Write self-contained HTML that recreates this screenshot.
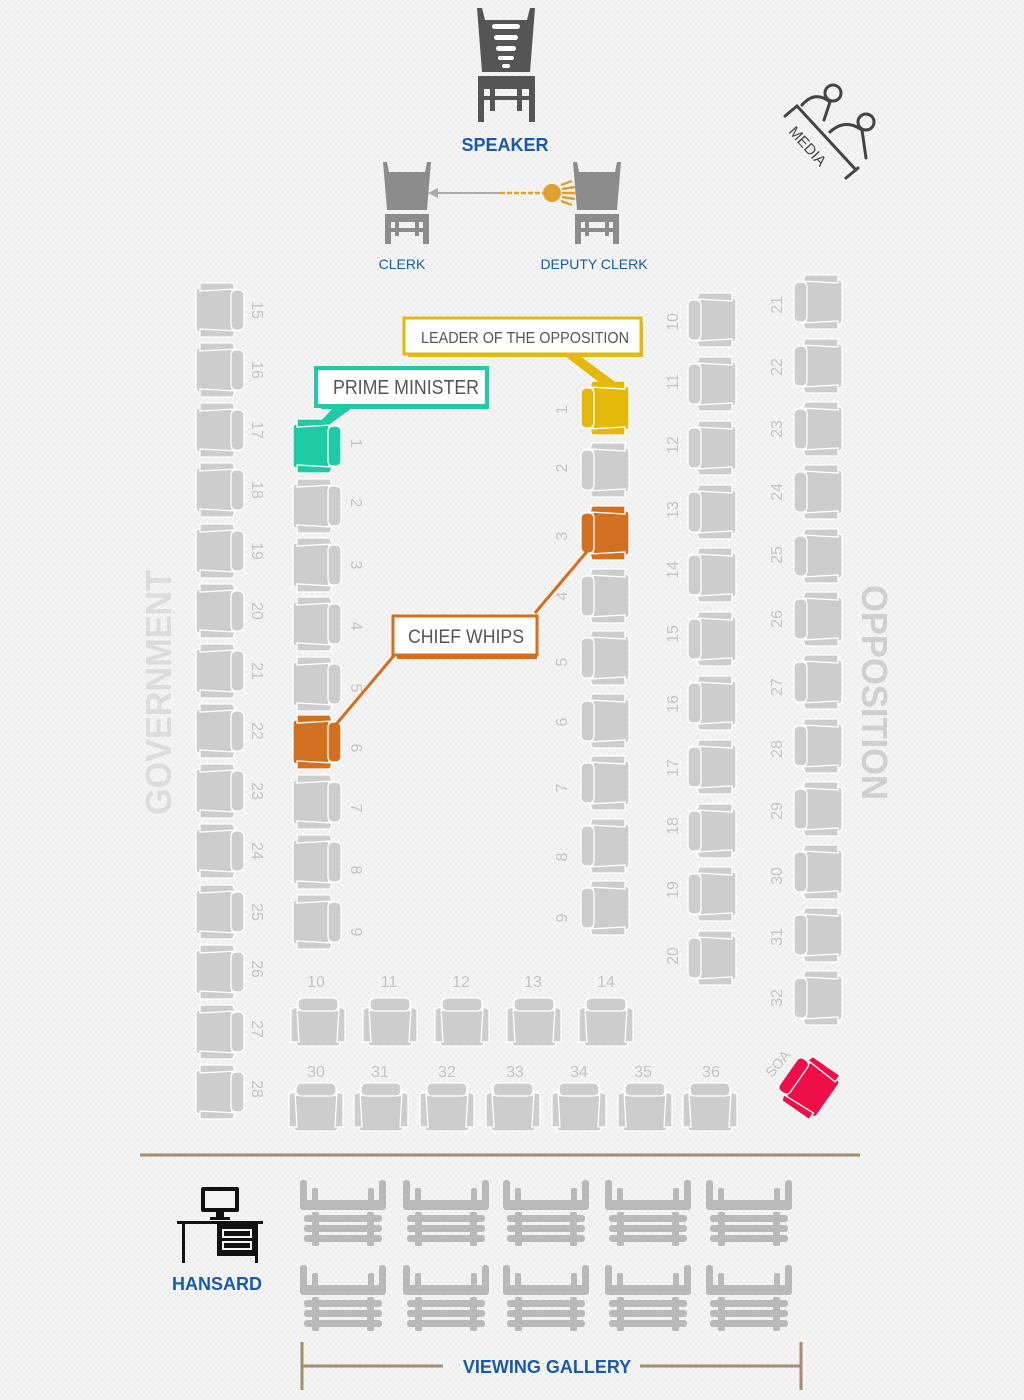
<!DOCTYPE html>
<html><head><meta charset="utf-8"><style>
html,body{margin:0;padding:0;background:#f3f3f3;}
svg{display:block;font-family:"Liberation Sans",sans-serif;}
</style></head><body>
<svg width="1024" height="1400" viewBox="0 0 1024 1400" xmlns="http://www.w3.org/2000/svg">
<defs>
<pattern id="bg" width="6" height="6" patternUnits="userSpaceOnUse">
<rect width="6" height="6" fill="#f5f5f5"/><path d="M0 0L6 6M6 0L0 6" stroke="#e9e9e9" stroke-width="0.6"/>
</pattern>
<g id="c" stroke="#fff" stroke-width="1.3">
<rect x="-22" y="-12" width="44" height="36" rx="3"/>
<path d="M-27,-13 L-21,-15 L-19,20 L-27,20 Z"/>
<path d="M27,-13 L21,-15 L19,20 L27,20 Z"/>
<rect x="-20" y="-24" width="40" height="13" rx="5"/>
</g>
<g id="bench" fill="#b9b9b9">
<rect x="0" y="0" width="7" height="28" rx="3"/><rect x="79" y="0" width="7" height="28" rx="3"/>
<rect x="12" y="8" width="6" height="20" rx="2"/><rect x="68" y="8" width="6" height="20" rx="2"/>
<rect x="0" y="20" width="86" height="10" rx="3"/>
<rect x="4" y="35" width="78" height="7" rx="3"/><rect x="4" y="45" width="78" height="7" rx="3"/><rect x="4" y="55" width="78" height="7" rx="3"/>
<rect x="12" y="32" width="7" height="34" rx="2"/><rect x="67" y="32" width="7" height="34" rx="2"/>
</g>
<g id="hchair">
<path d="M0,0 L4,0 L6,10 L42,10 L44,0 L48,0 L44,48 L4,48 Z"/>
<rect x="2" y="52" width="44" height="8"/>
<rect x="2" y="60" width="6" height="22"/><rect x="40" y="60" width="6" height="22"/>
<rect x="12" y="60" width="4" height="14"/><rect x="32" y="60" width="4" height="14"/>
<rect x="2" y="66" width="44" height="4"/>
</g>
</defs>
<rect width="1024" height="1400" fill="url(#bg)"/>

<!-- Speaker -->
<g fill="#555">
<path d="M477,8 L482,8 L485,20 L527,20 L530,8 L535,8 L530,72 L482,72 Z"/>
<rect x="478" y="76" width="57" height="13"/>
<rect x="478" y="89" width="6" height="33"/><rect x="529" y="89" width="6" height="33"/>
<rect x="490" y="89" width="5" height="22"/><rect x="517" y="89" width="5" height="22"/>
<rect x="478" y="96" width="57" height="4"/>
</g>
<g fill="#fff"><rect x="492" y="24" width="28" height="5" rx="2.5"/><rect x="494" y="35" width="24" height="5" rx="2.5"/><rect x="496" y="46" width="20" height="5" rx="2.5"/><rect x="498" y="56" width="16" height="4" rx="2"/><rect x="502" y="64" width="8" height="4" rx="2"/></g>
<text x="505" y="151" text-anchor="middle" font-size="18" font-weight="bold" fill="#1a5aa6">SPEAKER</text>

<g fill="#8c8c8c"><use href="#hchair" x="383" y="162"/><use href="#hchair" x="573" y="162"/></g>
<line x1="436" y1="193" x2="500" y2="193" stroke="#aaa" stroke-width="2"/>
<path d="M428,193 L438,188 L438,198 Z" fill="#aaa"/>
<line x1="500" y1="193" x2="543" y2="193" stroke="#e0a030" stroke-width="2.5" stroke-dasharray="5,2"/>
<circle cx="552" cy="193" r="9" fill="#e0a030"/>
<path d="M561,185 L572,181 M562,189 L575,187 M562,193 L576,193 M562,197 L575,199 M561,201 L572,205" stroke="#e0a030" stroke-width="2.5"/>
<text x="402" y="269" text-anchor="middle" font-size="14" fill="#1a5aa6">CLERK</text>
<text x="594" y="269" text-anchor="middle" font-size="14" fill="#1a5aa6">DEPUTY CLERK</text>

<!-- Media -->
<g stroke="#444" stroke-width="3" fill="none" stroke-linecap="round">
<circle cx="833" cy="93" r="8"/><circle cx="866" cy="122" r="8"/>
<line x1="797" y1="106" x2="856" y2="170"/>
<line x1="785" y1="116" x2="797" y2="106"/><line x1="846" y1="178" x2="858" y2="168"/>
<path d="M802,105 Q815,90 830,102 L824,120"/>
<path d="M830,132 Q845,118 862,130 L866,158"/>
</g>
<text x="0" y="0" font-size="15" fill="#444" transform="translate(788,132) rotate(48)">MEDIA</text>

<text font-size="36" font-weight="bold" fill="#dcdcdc" transform="translate(171,815) rotate(-90)" textLength="245" lengthAdjust="spacingAndGlyphs">GOVERNMENT</text>
<text font-size="36" font-weight="bold" fill="#cfcfcf" transform="translate(862,585) rotate(90)" textLength="215" lengthAdjust="spacingAndGlyphs">OPPOSITION</text>

<g fill="#cdcdcd">
<use href="#c" transform="translate(220,310) rotate(90)"/><use href="#c" transform="translate(220,370) rotate(90)"/><use href="#c" transform="translate(220,430) rotate(90)"/><use href="#c" transform="translate(220,490) rotate(90)"/><use href="#c" transform="translate(220,551) rotate(90)"/><use href="#c" transform="translate(220,611) rotate(90)"/><use href="#c" transform="translate(220,671) rotate(90)"/><use href="#c" transform="translate(220,731) rotate(90)"/><use href="#c" transform="translate(220,791) rotate(90)"/><use href="#c" transform="translate(220,851) rotate(90)"/><use href="#c" transform="translate(220,912) rotate(90)"/><use href="#c" transform="translate(220,972) rotate(90)"/><use href="#c" transform="translate(220,1032) rotate(90)"/><use href="#c" transform="translate(220,1092) rotate(90)"/>
<use href="#c" transform="translate(317,506) rotate(90)"/><use href="#c" transform="translate(317,565) rotate(90)"/><use href="#c" transform="translate(317,624) rotate(90)"/><use href="#c" transform="translate(317,684) rotate(90)"/><use href="#c" transform="translate(317,802) rotate(90)"/><use href="#c" transform="translate(317,862) rotate(90)"/><use href="#c" transform="translate(317,922) rotate(90)"/>
<use href="#c" transform="translate(605,470) rotate(-90)"/><use href="#c" transform="translate(605,596) rotate(-90)"/><use href="#c" transform="translate(605,658) rotate(-90)"/><use href="#c" transform="translate(605,721) rotate(-90)"/><use href="#c" transform="translate(605,783) rotate(-90)"/><use href="#c" transform="translate(605,846) rotate(-90)"/><use href="#c" transform="translate(605,908) rotate(-90)"/>
<use href="#c" transform="translate(712,320) rotate(-90)"/><use href="#c" transform="translate(712,384) rotate(-90)"/><use href="#c" transform="translate(712,448) rotate(-90)"/><use href="#c" transform="translate(712,512) rotate(-90)"/><use href="#c" transform="translate(712,575) rotate(-90)"/><use href="#c" transform="translate(712,639) rotate(-90)"/><use href="#c" transform="translate(712,703) rotate(-90)"/><use href="#c" transform="translate(712,767) rotate(-90)"/><use href="#c" transform="translate(712,831) rotate(-90)"/><use href="#c" transform="translate(712,894) rotate(-90)"/><use href="#c" transform="translate(712,958) rotate(-90)"/>
<use href="#c" transform="translate(818,302) rotate(-90)"/><use href="#c" transform="translate(818,366) rotate(-90)"/><use href="#c" transform="translate(818,429) rotate(-90)"/><use href="#c" transform="translate(818,492) rotate(-90)"/><use href="#c" transform="translate(818,556) rotate(-90)"/><use href="#c" transform="translate(818,619) rotate(-90)"/><use href="#c" transform="translate(818,682) rotate(-90)"/><use href="#c" transform="translate(818,746) rotate(-90)"/><use href="#c" transform="translate(818,809) rotate(-90)"/><use href="#c" transform="translate(818,872) rotate(-90)"/><use href="#c" transform="translate(818,935) rotate(-90)"/><use href="#c" transform="translate(818,998) rotate(-90)"/>
<use href="#c" transform="translate(318,1022)"/><use href="#c" transform="translate(390,1022)"/><use href="#c" transform="translate(462,1022)"/><use href="#c" transform="translate(534,1022)"/><use href="#c" transform="translate(606,1022)"/>
<use href="#c" transform="translate(316,1107)"/><use href="#c" transform="translate(381,1107)"/><use href="#c" transform="translate(447,1107)"/><use href="#c" transform="translate(513,1107)"/><use href="#c" transform="translate(579,1107)"/><use href="#c" transform="translate(645,1107)"/><use href="#c" transform="translate(710,1107)"/>
</g>
<use href="#c" fill="#1ecba5" transform="translate(317,446) rotate(90)"/>
<use href="#c" fill="#d2701f" transform="translate(317,742) rotate(90)"/>
<use href="#c" fill="#e5b90b" transform="translate(605,408) rotate(-90)"/>
<use href="#c" fill="#d2701f" transform="translate(605,533) rotate(-90)"/>
<use href="#c" fill="#ee0e48" transform="translate(808,1086) rotate(-55)"/>
<text font-size="14" fill="#c0c0c0" transform="translate(772,1078) rotate(-50)">SOA</text>

<g font-size="16" fill="#c4c4c4" text-anchor="middle">
<text transform="translate(252,310) rotate(90)">15</text><text transform="translate(252,370) rotate(90)">16</text><text transform="translate(252,430) rotate(90)">17</text><text transform="translate(252,490) rotate(90)">18</text><text transform="translate(252,551) rotate(90)">19</text><text transform="translate(252,611) rotate(90)">20</text><text transform="translate(252,671) rotate(90)">21</text><text transform="translate(252,731) rotate(90)">22</text><text transform="translate(252,791) rotate(90)">23</text><text transform="translate(252,851) rotate(90)">24</text><text transform="translate(252,912) rotate(90)">25</text><text transform="translate(252,969) rotate(90)">26</text><text transform="translate(252,1029) rotate(90)">27</text><text transform="translate(252,1089) rotate(90)">28</text>
<text transform="translate(351,443) rotate(90)">1</text><text transform="translate(351,503) rotate(90)">2</text><text transform="translate(351,565) rotate(90)">3</text><text transform="translate(351,626) rotate(90)">4</text><text transform="translate(351,688) rotate(90)">5</text><text transform="translate(351,748) rotate(90)">6</text><text transform="translate(351,808) rotate(90)">7</text><text transform="translate(351,870) rotate(90)">8</text><text transform="translate(351,932) rotate(90)">9</text>
<text transform="translate(567,410) rotate(-90)">1</text><text transform="translate(567,468) rotate(-90)">2</text><text transform="translate(567,536) rotate(-90)">3</text><text transform="translate(567,596) rotate(-90)">4</text><text transform="translate(567,662) rotate(-90)">5</text><text transform="translate(567,722) rotate(-90)">6</text><text transform="translate(567,788) rotate(-90)">7</text><text transform="translate(567,857) rotate(-90)">8</text><text transform="translate(567,918) rotate(-90)">9</text>
<text transform="translate(678,322) rotate(-90)">10</text><text transform="translate(678,382) rotate(-90)">11</text><text transform="translate(678,445) rotate(-90)">12</text><text transform="translate(678,510) rotate(-90)">13</text><text transform="translate(678,570) rotate(-90)">14</text><text transform="translate(678,634) rotate(-90)">15</text><text transform="translate(678,704) rotate(-90)">16</text><text transform="translate(678,768) rotate(-90)">17</text><text transform="translate(678,826) rotate(-90)">18</text><text transform="translate(678,890) rotate(-90)">19</text><text transform="translate(678,956) rotate(-90)">20</text>
<text transform="translate(782,305) rotate(-90)">21</text><text transform="translate(782,367) rotate(-90)">22</text><text transform="translate(782,429) rotate(-90)">23</text><text transform="translate(782,492) rotate(-90)">24</text><text transform="translate(782,555) rotate(-90)">25</text><text transform="translate(782,619) rotate(-90)">26</text><text transform="translate(782,687) rotate(-90)">27</text><text transform="translate(782,749) rotate(-90)">28</text><text transform="translate(782,811) rotate(-90)">29</text><text transform="translate(782,876) rotate(-90)">30</text><text transform="translate(782,937) rotate(-90)">31</text><text transform="translate(782,998) rotate(-90)">32</text>
<text x="316" y="987">10</text><text x="389" y="987">11</text><text x="461" y="987">12</text><text x="533" y="987">13</text><text x="606" y="987">14</text>
<text x="316" y="1077">30</text><text x="380" y="1077">31</text><text x="447" y="1077">32</text><text x="515" y="1077">33</text><text x="579" y="1077">34</text><text x="643" y="1077">35</text><text x="711" y="1077">36</text>
</g>

<path d="M333,408 L318,424 L330,424 L352,408 Z" fill="#1ecba5"/>
<rect x="321" y="373" width="168" height="36" fill="#1ecba5"/>
<rect x="316" y="368" width="171" height="38" fill="#fff" stroke="#1ecba5" stroke-width="4"/>
<text x="333" y="394" font-size="20" fill="#555" textLength="146" lengthAdjust="spacingAndGlyphs">PRIME MINISTER</text>

<path d="M580,356 L618,384 L604,386 L565,356 Z" fill="#e5b90b"/>
<rect x="408" y="322" width="235" height="35" fill="#e5b90b"/>
<rect x="404" y="318" width="237" height="36" fill="#fff" stroke="#e5b90b" stroke-width="3"/>
<text x="421" y="343" font-size="16" fill="#555" textLength="208" lengthAdjust="spacingAndGlyphs">LEADER OF THE OPPOSITION</text>

<line x1="333" y1="728" x2="397" y2="652" stroke="#d2701f" stroke-width="3"/>
<line x1="535" y1="613" x2="590" y2="548" stroke="#d2701f" stroke-width="3"/>
<rect x="397" y="620" width="140" height="39" fill="#d2701f"/>
<rect x="393" y="616" width="144" height="39" fill="#fff" stroke="#d2701f" stroke-width="3"/>
<text x="408" y="643" font-size="19" fill="#555" textLength="116" lengthAdjust="spacingAndGlyphs">CHIEF WHIPS</text>

<line x1="140" y1="1155" x2="860" y2="1155" stroke="#a58e6e" stroke-width="3"/>

<use href="#bench" x="300" y="1180"/><use href="#bench" x="403" y="1180"/><use href="#bench" x="503" y="1180"/><use href="#bench" x="605" y="1180"/><use href="#bench" x="706" y="1180"/>
<use href="#bench" x="300" y="1265"/><use href="#bench" x="403" y="1265"/><use href="#bench" x="503" y="1265"/><use href="#bench" x="605" y="1265"/><use href="#bench" x="706" y="1265"/>

<g fill="#111">
<rect x="201" y="1187" width="38" height="25" rx="2"/><rect x="205" y="1191" width="30" height="17" fill="#f5f5f5"/>
<rect x="216" y="1212" width="8" height="6"/><rect x="210" y="1217" width="20" height="3"/>
<rect x="177" y="1221" width="86" height="3"/>
<rect x="182" y="1224" width="3" height="39"/><rect x="255" y="1224" width="3" height="39"/>
<rect x="217" y="1224" width="41" height="32"/>
<rect x="222" y="1229" width="30" height="9" fill="#f5f5f5"/><rect x="222" y="1241" width="30" height="9" fill="#f5f5f5"/>
<rect x="224" y="1231" width="26" height="5"/><rect x="224" y="1243" width="26" height="5"/>
</g>
<text x="217" y="1290" text-anchor="middle" font-size="18" font-weight="bold" fill="#1a5aa6">HANSARD</text>

<g stroke="#a58e6e" stroke-width="3">
<line x1="302" y1="1342" x2="302" y2="1390"/><line x1="801" y1="1342" x2="801" y2="1390"/>
<line x1="302" y1="1366" x2="443" y2="1366"/><line x1="640" y1="1366" x2="801" y2="1366"/>
</g>
<text x="547" y="1373" text-anchor="middle" font-size="18" font-weight="bold" fill="#1a5aa6">VIEWING GALLERY</text>
</svg>
</body></html>
